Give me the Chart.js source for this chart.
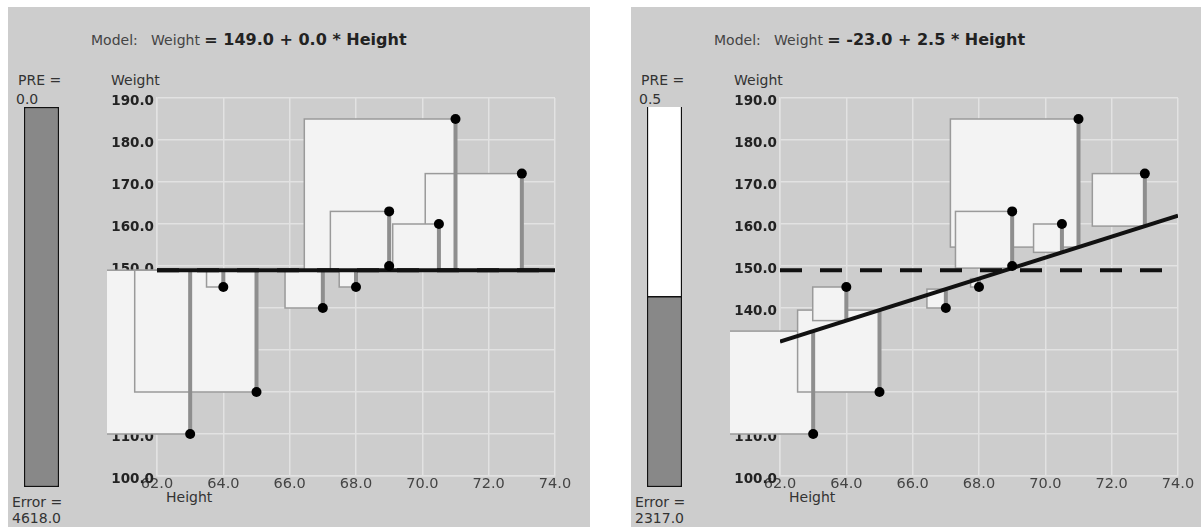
<!DOCTYPE html>
<html>
<head>
<meta charset="utf-8">
<script src="https://cdn.jsdelivr.net/npm/chart.js@4.4.0/dist/chart.umd.min.js"></script>
<style>
  html, body { margin: 0; padding: 0; background: #fff; width: 1201px; height: 527px; overflow: hidden;
               font-family: "DejaVu Sans", sans-serif; }
  .panel { position: absolute; top: 7px; height: 520px; background: #cdcdcd; overflow: hidden; }
  .panel canvas { position: absolute; }
  .lbl { position: absolute; white-space: nowrap; color: #333; font-size: 14px; line-height: 14px; }
  .title { position: absolute; white-space: pre; color: #444; font-size: 14px; line-height: 16px; }
  .title b { font-size: 16px; color: #222; }
</style>
</head>
<body>
<div id="panel0" class="panel" style="left:8px;width:582px"></div>
<div id="panel1" class="panel" style="left:631px;width:570px"></div>
<script>
// Observations: height (inches) and weight (pounds)
const heights = [63, 64, 65, 67, 68, 69, 69, 70.5, 71, 73];
const weights = [110, 145, 120, 140, 145, 150, 163, 160, 185, 172];

// Two models: the empty (mean-only) model and a model using Height
const intercepts = [149.0, -23.0];
const slopes = [0.0, 2.5];
const errorValues = [4618.0, 2317.0];
const preValues = [0.0, 0.5];

// Axis ranges and tick steps
const heightRange = [62, 74];
const heightStep = 2;
const weightRange = [100, 190];
const weightStep = 10;

const meanWeight = weights.reduce((s, w) => s + w, 0) / weights.length;
const totalError = errorValues[0];

Chart.defaults.font.family = '"DejaVu Sans", sans-serif';

// Squared residuals: a square of side |residual| to the left of each point
const residualSquares = {
  id: 'residualSquares',
  beforeDatasetsDraw(chart, args, opts) {
    const { ctx, chartArea: a, scales: { x, y } } = chart;
    const items = heights.map((h, i) => {
      const px = x.getPixelForValue(h);
      const py = y.getPixelForValue(weights[i]);
      const pm = y.getPixelForValue(opts.intercept + opts.slope * h);
      return { px, top: Math.min(py, pm), side: Math.abs(py - pm) };
    }).sort((p, q) => q.side - p.side);
    ctx.save();
    ctx.beginPath();
    ctx.rect(a.left - 50, a.top, a.right - a.left + 50, a.bottom - a.top);
    ctx.clip();
    ctx.fillStyle = '#f3f3f3';
    ctx.strokeStyle = '#9a9a9a';
    ctx.lineWidth = 1.5;
    items.forEach(s => {
      if (s.side < 0.5) return;
      ctx.fillRect(s.px - s.side, s.top, s.side, s.side);
      ctx.strokeRect(s.px - s.side, s.top, s.side, s.side);
    });
    ctx.restore();
  }
};

const gridColor = '#e2e2e2';

function addLabel(panel, text, left, top, cls) {
  const d = document.createElement('div');
  d.className = cls || 'lbl';
  d.style.left = left + 'px';
  d.style.top = top + 'px';
  d.innerHTML = text;
  panel.appendChild(d);
  return d;
}

function buildPanel(i) {
  const panel = document.getElementById('panel' + i);
  const W = panel.clientWidth, H = panel.clientHeight;
  const a = intercepts[i], b = slopes[i];
  const fit = h => a + b * h;

  addLabel(panel, 'Model:   Weight <b>= ' + a.toFixed(1) + ' + ' + b.toFixed(1) + ' * Height</b>', 83, 25, 'title');
  addLabel(panel, 'PRE =', 10, 66);
  addLabel(panel, preValues[i].toFixed(1), 8, 85);
  addLabel(panel, 'Weight', 103, 66);
  addLabel(panel, 'Height', 158, 483);
  addLabel(panel, 'Error =', 4, 488);
  addLabel(panel, errorValues[i].toFixed(1), 4, 504);

  // PRE bar: remaining error (dark) stacked under the reduction (white)
  const barCanvas = document.createElement('canvas');
  barCanvas.width = 35; barCanvas.height = 380;
  barCanvas.style.left = '15.5px'; barCanvas.style.top = '99.5px';
  panel.appendChild(barCanvas);
  new Chart(barCanvas, {
    type: 'bar',
    data: {
      labels: ['PRE'],
      datasets: [
        { data: [errorValues[i]], backgroundColor: '#888888', borderColor: '#111',
          borderWidth: 1.5, borderSkipped: false, stack: 's' },
        { data: [totalError - errorValues[i]], backgroundColor: '#ffffff', borderColor: '#111',
          borderWidth: { left: 1.5, right: 1.5, top: 0, bottom: 0 }, borderSkipped: false, stack: 's' }
      ]
    },
    options: {
      responsive: false, animation: false, devicePixelRatio: 1,
      layout: { padding: 0 },
      datasets: { bar: { categoryPercentage: 1, barPercentage: 1 } },
      scales: {
        x: { display: false, stacked: true },
        y: { display: false, stacked: true, min: 0, max: totalError }
      },
      plugins: { legend: { display: false }, tooltip: { enabled: false } }
    }
  });

  // Scatter plot with model line, residuals and squared residuals
  const canvas = document.createElement('canvas');
  canvas.width = W; canvas.height = H;
  canvas.style.left = '0px'; canvas.style.top = '0px';
  panel.appendChild(canvas);

  const datasets = [
    { data: heights.map((h, k) => ({ x: h, y: weights[k] })), showLine: false,
      pointRadius: 5, pointBackgroundColor: '#000', pointBorderWidth: 0 },
    { data: heightRange.map(h => ({ x: h, y: fit(h) })), showLine: true,
      borderColor: '#111', borderWidth: 4, pointRadius: 0, borderCapStyle: 'butt' },
    { data: heightRange.map(h => ({ x: h, y: meanWeight })), showLine: true,
      borderColor: '#111', borderWidth: 4, borderDash: [22, 18], pointRadius: 0, borderCapStyle: 'butt' }
  ];
  heights.forEach((h, k) => {
    datasets.push({ data: [{ x: h, y: weights[k] }, { x: h, y: fit(h) }], showLine: true,
      borderColor: '#8e8e8e', borderWidth: 4, pointRadius: 0, borderCapStyle: 'butt' });
  });

  new Chart(canvas, {
    type: 'scatter',
    data: { datasets },
    options: {
      responsive: false, animation: false, devicePixelRatio: 1,
      layout: { padding: { left: 94, top: 91, right: W - 547, bottom: 27 } },
      plugins: {
        legend: { display: false }, tooltip: { enabled: false },
        residualSquares: { intercept: a, slope: b }
      },
      scales: {
        x: {
          type: 'linear', min: heightRange[0], max: heightRange[1],
          afterFit: s => { s.height = 24; },
          ticks: { stepSize: heightStep, callback: v => Number(v).toFixed(1), color: '#444',
                   font: { size: 14.5 }, padding: 0, maxRotation: 0, autoSkip: false },
          grid: { color: gridColor, lineWidth: 1.5, drawTicks: false },
          border: { color: gridColor, width: 1.5 }
        },
        y: {
          type: 'linear', min: weightRange[0], max: weightRange[1],
          afterFit: s => { s.width = 55; },
          ticks: { stepSize: weightStep, callback: v => Number(v).toFixed(1), color: '#222',
                   font: { size: 13.5, weight: 'bold' }, padding: 3, labelOffset: 3 },
          grid: { color: gridColor, lineWidth: 1.5, drawTicks: false },
          border: { color: gridColor, width: 1.5 }
        }
      }
    },
    plugins: [residualSquares]
  });
}

buildPanel(0);
buildPanel(1);
</script>
</body>
</html>
